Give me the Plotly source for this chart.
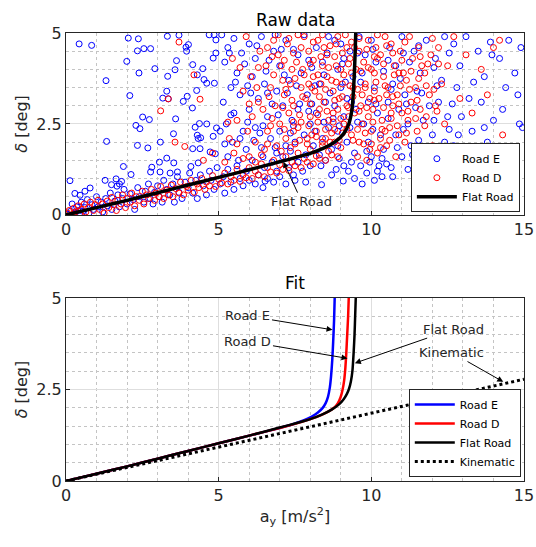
import plotly.graph_objects as go

# ---------------- raw measurements (a_y [m/s^2], delta [deg]) ----------------
road_e_x = [
    0.05, 0.15, 0.2, 0.3, 0.35, 0.4, 0.5, 0.55, 0.62, 0.7, 0.75, 0.85, 0.9, 1.0, 1.05, 1.15, 1.2, 1.3, 1.35, 1.45,
    1.5, 1.6, 1.7, 1.75, 1.85, 1.9, 2.0, 2.1, 2.2, 2.25, 2.35, 2.4, 2.55, 2.6, 2.7, 2.75, 2.85, 2.9, 3.0, 3.05,
    3.15, 3.2, 3.3, 3.4, 3.5, 3.55, 3.65, 3.7, 3.8, 3.9, 4.0, 4.05, 4.15, 4.25, 4.3, 4.4, 4.5, 4.6, 4.7, 4.75,
    4.85, 4.95, 5.05, 5.15, 5.2, 5.3, 5.4, 5.5, 5.6, 5.7, 5.8, 5.9, 6.0, 6.1, 6.2, 6.3, 6.45, 6.5, 6.6, 6.75,
    6.8, 6.9, 7.0, 7.1, 7.2, 7.3, 7.45, 7.5, 7.6, 7.75, 7.85, 8.0, 6.52, 8.37, 9.08,
    0.43, 0.84, 2.04, 2.37, 2.34, 2.55, 2.77, 3.32, 3.70, 3.93, 4.01, 3.95, 1.99, 1.31, 2.39, 2.91, 3.62, 3.57,
    3.33, 2.09, 3.30, 3.17, 3.35, 3.97, 3.84, 4.14, 4.15, 4.48, 4.52, 4.30, 4.28, 4.61, 4.86, 4.91, 4.82, 4.69,
    4.85, 4.91, 2.51, 2.73, 3.59, 2.29, 2.42, 1.33, 3.09, 2.34, 2.68, 4.23, 4.37, 4.61, 4.30, 4.33, 4.41, 4.82,
    4.93, 3.52, 4.15, 4.39, 4.72, 4.89, 3.30, 3.53, 3.06, 1.88, 2.13, 2.81, 2.77, 3.08, 3.41, 3.65, 4.09, 4.33,
    0.13, 1.28, 1.64, 1.82, 1.75, 1.67, 1.49, 0.29, 0.46, 0.62, 0.79,
    5.1, 5.3, 5.5, 5.2, 5.6, 5.4, 5.15, 5.7, 5.5, 5.25, 5.8, 5.45, 5.9, 5.3, 6.0, 6.2, 6.4, 6.1, 6.5, 6.3,
    6.0, 6.6, 6.2, 6.7, 6.4, 6.9, 6.8, 7.0, 7.2, 6.9, 7.3, 7.1, 7.4, 7.0, 7.5, 7.2, 7.6, 7.8, 7.7, 7.9,
    7.6, 8.0, 7.8, 8.1, 8.2, 8.4, 8.3, 8.5, 8.2, 8.6, 8.4, 8.7, 8.8, 8.9, 9.0, 8.8, 9.1, 8.9, 9.2, 9.3,
    9.4, 9.2, 9.5, 9.3, 9.45, 8.95, 8.5, 9.1, 8.3, 5.75, 6.85, 7.45, 8.6, 9.1, 9.0, 6.55, 7.25, 8.05, 8.75, 9.35,
    6.15, 5.05, 5.65, 6.45, 7.35, 8.15, 8.9, 7.95, 6.75, 5.95, 8.45,
    9.6, 9.8, 10.0, 9.7, 10.1, 9.9, 10.2, 9.75, 10.3, 9.9, 10.4, 10.0, 10.5, 10.2, 10.6, 10.8, 11.0, 10.7, 11.1, 10.9,
    11.2, 10.8, 11.3, 11.0, 11.5, 11.4, 11.6, 11.8, 11.5, 11.9, 11.7, 12.0, 11.8, 12.2, 12.1, 12.3, 12.4, 12.2, 12.5, 12.4,
    10.4, 10.55, 11.25, 11.45, 12.05, 10.15, 10.95, 10.65, 9.65, 9.85, 10.1, 9.45, 9.25, 10.35,
    12.7, 12.9, 13.1, 12.8, 13.2, 12.95, 13.3, 12.7, 13.0, 13.5, 13.7, 13.9, 13.6, 14.0, 13.8, 14.2, 14.4, 14.5, 14.3, 14.7,
    14.9, 14.85, 14.6, 14.95, 13.4, 14.1, 12.6, 13.5, 14.8, 13.95,
    5.35, 5.85, 6.25, 6.65, 7.05, 7.55, 8.05, 8.55, 9.05, 9.55, 10.05, 10.55, 11.05, 11.55, 12.05, 12.55, 5.55, 6.05, 6.6, 7.15,
    7.65, 8.15, 8.65, 9.15, 9.65, 10.15, 10.65, 11.15, 11.65, 12.15, 12.65, 5.4, 5.95, 6.45, 6.95, 7.45, 7.95, 8.45, 8.95, 9.55,
    10.05, 10.55, 11.05, 11.55, 12.05, 12.55, 5.2, 5.7, 6.35, 6.85, 7.35, 7.85, 8.35, 8.85, 9.35, 9.85, 10.35, 10.85, 11.35, 9.7,
    10.25, 8.7, 9.95, 10.7, 11.2, 13.2, 13.7, 14.45, 12.85, 13.35,
]
road_e_y = [
    0.02, 0.1, 0.3, 0.05, 0.22, 0.12, 0.35, 0.1, 0.2, 0.42, 0.05, 0.28, 0.15, 0.5, 0.22, 0.35, 0.08, 0.45, 0.25, 0.6,
    0.15, 0.38, 0.55, 0.22, 0.45, 0.7, 0.3, 0.58, 0.42, 0.15, 0.75, 0.5, 0.35, 0.65, 0.85, 0.45, 0.3, 0.62, 0.8, 0.5,
    0.35, 0.95, 0.7, 0.55, 0.85, 0.35, 1.05, 0.62, 0.45, 0.9, 0.75, 1.15, 0.6, 0.95, 0.45, 1.1, 0.8, 0.55, 1.2, 0.95,
    0.7, 1.3, 0.85, 1.05, 0.6, 1.25, 0.9, 0.7, 1.35, 1.0, 0.8, 1.2, 0.95, 1.5, 0.85, 1.1, 0.75, 1.3, 1.0, 1.45,
    0.9, 1.2, 1.05, 1.6, 0.85, 1.3, 1.1, 0.95, 1.45, 1.2, 0.9, 1.35, 0.93, 0.83, 0.93,
    4.70, 4.66, 4.86, 4.84, 4.51, 4.57, 4.57, 4.91, 4.94, 4.61, 4.68, 4.50, 4.22, 3.69, 3.90, 4.02, 4.24, 3.99,
    3.81, 3.28, 3.40, 3.21, 3.19, 3.26, 3.12, 2.94, 4.13, 4.02, 3.72, 3.85, 3.42, 3.62, 3.62, 4.45, 4.31, 4.95,
    4.95, 4.81, 2.69, 2.62, 2.64, 2.46, 2.37, 2.02, 2.00, 1.91, 1.84, 2.41, 2.51, 2.50, 2.19, 2.10, 2.12, 2.16,
    2.39, 2.23, 1.82, 1.82, 1.73, 1.68, 1.56, 1.43, 1.45, 1.33, 1.11, 1.31, 1.18, 1.18, 1.15, 1.18, 1.33, 1.43,
    0.94, 0.95, 0.99, 0.92, 0.85, 0.79, 0.83, 0.59, 0.54, 0.65, 0.74,
    4.95, 4.6, 4.85, 4.2, 3.9, 3.5, 3.1, 3.3, 2.8, 2.5, 2.3, 2.0, 1.8, 1.6, 4.7, 4.3, 4.9, 3.8, 3.6, 3.2,
    2.9, 2.7, 2.4, 2.1, 1.85, 1.7, 4.5, 4.1, 4.8, 3.4, 3.7, 3.0, 2.6, 2.3, 2.0, 1.9, 4.4, 4.95, 3.9, 3.3,
    2.9, 2.5, 2.2, 1.9, 4.6, 4.2, 3.6, 3.1, 2.8, 2.4, 2.1, 1.8, 4.8, 4.0, 3.5, 3.0, 2.7, 2.3, 2.0, 4.5,
    3.8, 3.2, 2.9, 2.4, 1.7, 1.55, 1.5, 1.35, 1.65, 4.45, 4.95, 4.55, 4.9, 4.3, 4.7, 3.95, 3.35, 3.05, 2.65, 3.1,
    2.05, 2.3, 1.5, 1.6, 2.25, 2.3, 1.9, 4.25, 3.05, 3.55, 3.85,
    4.9, 4.4, 4.8, 3.9, 3.5, 3.1, 2.8, 2.5, 2.2, 2.0, 1.8, 1.6, 1.4, 1.2, 4.6, 4.1, 4.9, 3.6, 3.3, 2.9,
    2.5, 2.2, 1.9, 1.6, 1.4, 4.5, 3.9, 4.8, 3.4, 3.0, 2.6, 2.2, 1.8, 1.5, 4.3, 3.7, 4.9, 3.1, 2.7, 2.0,
    3.95, 3.1, 4.2, 2.95, 2.6, 4.2, 3.75, 1.3, 1.35, 1.15, 0.95, 1.0, 1.2, 1.05,
    4.7, 4.1, 4.9, 3.5, 3.2, 2.7, 2.3, 1.9, 1.5, 4.5, 3.8, 4.75, 3.1, 2.6, 2.0, 4.3, 3.5, 4.8, 2.9, 3.9,
    4.6, 2.5, 1.8, 2.4, 1.0, 1.3, 0.85, 1.7, 3.3, 4.4,
    4.45, 4.15, 4.65, 4.25, 4.55, 3.55, 4.05, 4.45, 4.15, 4.45, 4.55, 4.25, 4.45, 4.65, 4.05, 4.45, 3.65, 3.35, 3.35, 3.85,
    3.05, 3.55, 3.35, 3.65, 3.65, 3.05, 3.45, 3.05, 3.35, 3.55, 3.05, 2.75, 2.55, 2.45, 2.75, 2.45, 2.85, 2.55, 2.45, 2.55,
    2.35, 2.65, 2.35, 2.05, 1.75, 2.35, 1.95, 2.1, 2.25, 1.85, 1.75, 1.65, 1.35, 1.25, 1.45, 1.75, 1.55, 1.85, 1.65, 0.85,
    1.35, 1.1, 1.45, 1.05, 1.25, 1.1, 2.4, 1.5, 2.2, 3.65,
]

road_d_x = [
    0.05, 0.1, 0.2, 0.25, 0.3, 0.4, 0.45, 0.5, 0.6, 0.65, 0.75, 0.8, 0.9, 0.95, 1.05, 1.1, 1.2, 1.25, 1.35, 1.4,
    1.5, 1.55, 1.65, 1.7, 1.8, 1.85, 1.95, 2.0, 2.1, 2.15, 2.25, 2.3, 2.4, 2.5, 2.55, 2.65, 2.7, 2.8, 2.9, 2.95,
    3.05, 3.1, 3.2, 3.3, 3.35, 3.45, 3.5, 3.6, 3.7, 3.75, 3.85, 3.95, 4.0, 4.1, 4.2, 4.3, 4.35, 4.45, 4.55, 4.6,
    4.7, 4.8, 4.9, 5.0, 5.1, 5.2, 5.3, 5.4, 5.5, 5.6, 5.7, 5.8, 5.9, 6.0, 6.1, 6.2, 6.3, 6.4, 6.5, 6.6,
    6.7, 6.8, 6.9, 7.0, 7.1, 7.2, 7.3, 7.4, 7.5, 7.6, 7.7, 7.8, 7.9, 8.0, 8.1, 8.2, 8.3, 8.4, 8.5, 8.6,
    8.7, 8.8, 8.9, 9.0,
    3.70, 3.10, 3.35, 3.57, 3.89, 4.19, 4.39, 4.5, 4.8,
    5.2, 5.5, 5.35, 5.6, 5.8, 5.45, 5.9, 6.0, 6.2, 6.1, 6.3, 6.05, 6.35, 6.5, 6.6, 6.45, 6.7, 6.55, 6.8, 6.9,
    7.0, 6.85, 7.1, 6.95, 7.2, 7.3, 7.15, 7.4, 7.25, 7.5, 7.6, 7.45, 7.7, 7.55, 7.8, 7.9, 8.0, 7.85, 8.1, 7.95,
    8.2, 8.3, 8.15, 8.4, 8.25, 8.5, 8.6, 8.45, 8.7, 8.55, 8.8, 8.9, 8.75, 9.0, 8.85, 9.1, 9.2, 9.05, 9.3, 9.15,
    9.35, 9.45, 9.4, 9.5, 9.45, 7.65, 8.05, 8.35, 8.65, 8.95, 9.25, 7.35, 7.05, 8.45, 8.85, 9.35, 7.75, 6.75, 6.25, 5.95,
    8.25, 8.55, 9.05, 7.45, 8.75, 9.2, 7.95, 6.6, 8.1, 9.4, 8.4,
    9.6, 9.7, 9.65, 9.8, 9.75, 9.9, 9.95, 10.0, 10.05, 10.1, 10.0, 10.15, 10.3, 10.35, 10.25, 10.4, 10.3, 10.45, 10.6, 10.7,
    10.55, 10.75, 10.65, 10.9, 11.0, 10.85, 11.05, 10.95, 11.2, 11.3, 11.15, 11.35, 11.25, 11.5, 11.6, 11.45, 11.65, 11.55, 11.8, 11.9,
    11.75, 11.95, 12.0, 12.1, 9.55, 9.85, 10.2, 10.5, 10.8, 11.1, 9.7, 9.9, 10.1, 10.5, 10.9, 10.45, 10.65, 9.6, 10.2, 9.95,
    12.3, 12.5, 12.7, 12.4, 12.9, 13.1, 13.3, 13.6, 14.0, 14.2, 13.8, 12.6, 14.3, 12.2,
    6.6, 6.7, 6.65, 6.8, 6.75, 6.95, 7.05, 7.15, 7.1, 7.2, 7.15, 7.3, 7.35, 7.45, 7.4, 7.5, 7.45, 7.6, 7.65, 7.7,
    7.75, 7.8, 7.7, 7.9, 7.95, 8.0, 8.05, 8.0, 8.1, 8.2, 8.25, 8.3, 8.25, 8.35, 8.4, 8.5, 8.55, 8.5, 8.6, 8.65,
    8.7, 8.75, 8.8, 8.85, 8.8, 8.9, 8.95, 9.0, 9.05, 9.1, 9.05, 9.2, 9.25, 9.3, 9.25, 9.35, 9.4, 9.55, 9.6, 9.55,
    9.65, 9.6, 9.75, 9.8, 9.85, 9.8, 9.9, 9.85, 10.0, 10.05, 10.1, 10.15, 10.1, 10.2, 10.3, 10.35, 10.4, 10.45, 10.4, 10.5,
    10.6, 10.65, 10.7, 10.75, 10.7, 10.85, 10.9, 10.95, 11.0, 11.1, 11.15, 11.2, 11.25, 11.3, 11.45, 11.5, 11.55, 11.6, 11.75, 11.8,
    11.85, 12.0, 12.05, 12.15, 12.2, 6.2, 6.4, 5.8, 5.6, 5.3, 6.0, 5.7, 6.3,
]
road_d_y = [
    0.05, 0.12, 0.0, 0.18, 0.08, 0.25, 0.02, 0.15, 0.3, 0.08, 0.2, 0.35, 0.12, 0.28, 0.4, 0.15, 0.3, 0.05, 0.38, 0.2,
    0.48, 0.28, 0.12, 0.4, 0.3, 0.55, 0.2, 0.45, 0.35, 0.6, 0.25, 0.5, 0.4, 0.65, 0.3, 0.55, 0.45, 0.7, 0.4, 0.6,
    0.5, 0.78, 0.45, 0.68, 0.55, 0.82, 0.5, 0.72, 0.6, 0.9, 0.55, 0.78, 0.68, 0.95, 0.62, 0.85, 0.75, 1.0, 0.7, 0.9,
    0.8, 1.08, 0.78, 0.98, 0.88, 1.15, 0.85, 1.05, 0.95, 1.25, 0.92, 1.1, 1.02, 1.3, 1.0, 1.2, 1.1, 1.4, 1.05, 1.3,
    1.18, 1.5, 1.15, 1.38, 1.25, 1.6, 1.22, 1.45, 1.35, 1.7, 1.3, 1.55, 1.45, 1.8, 1.4, 1.62, 1.55, 1.9, 1.5, 1.75,
    1.65, 2.0, 1.6, 1.85,
    4.75, 2.86, 3.19, 2.00, 1.88, 3.85, 3.18, 1.5, 1.7,
    1.45, 1.7, 2.1, 2.6, 3.4, 4.3, 4.9, 1.6, 2.0, 2.7, 3.1, 3.8, 4.5, 1.8, 2.3, 2.9, 3.5, 4.1, 4.8, 1.9,
    2.5, 3.0, 3.7, 4.4, 2.1, 2.8, 3.3, 4.0, 4.7, 1.95, 2.4, 3.0, 3.5, 4.2, 4.9, 2.1, 2.7, 3.2, 3.8, 4.5,
    2.3, 2.9, 3.4, 4.1, 4.8, 2.1, 2.6, 3.1, 3.7, 4.4, 2.35, 2.9, 3.4, 4.0, 4.7, 2.5, 3.0, 3.6, 4.3, 4.95,
    2.2, 2.8, 3.5, 4.0, 4.6, 2.75, 2.2, 3.6, 2.0, 3.2, 2.7, 3.6, 4.1, 4.6, 4.1, 3.9, 4.0, 2.65, 3.5, 2.3,
    2.55, 3.8, 2.25, 2.3, 2.8, 4.6, 3.6, 4.6, 4.25, 3.25, 2.0,
    2.0, 2.5, 3.0, 3.6, 4.2, 4.8, 1.8, 2.3, 2.9, 3.4, 4.0, 4.6, 2.1, 2.6, 3.2, 3.8, 4.4, 4.9, 2.4, 3.0,
    3.5, 4.1, 4.7, 2.2, 2.8, 3.3, 3.9, 4.5, 2.6, 3.1, 3.7, 4.3, 4.9, 2.3, 2.9, 3.5, 4.1, 4.6, 2.7, 3.3,
    3.9, 4.4, 1.9, 3.0, 1.6, 1.5, 1.7, 1.9, 1.6, 2.0, 3.3, 2.7, 3.9, 3.3, 3.9, 2.3, 2.8, 4.5, 4.3, 3.2,
    3.6, 4.1, 4.9, 2.5, 3.2, 4.4, 2.8, 4.0, 4.6, 4.8, 3.3, 1.6, 2.2, 4.6,
    1.95, 2.45, 3.25, 3.85, 4.35, 4.95, 1.75, 2.35, 2.95, 3.45, 4.25, 4.85, 1.85, 2.55, 3.15, 3.75, 4.45, 4.95, 2.05, 2.55,
    3.25, 3.85, 4.6, 1.95, 2.45, 3.05, 3.5, 4.15, 4.75, 2.15, 2.75, 3.25, 3.85, 4.35, 4.95, 2.35, 2.85, 3.45, 4.05, 4.65,
    2.25, 2.55, 3.15, 3.65, 4.35, 4.9, 2.05, 2.65, 3.25, 3.85, 4.45, 2.35, 2.95, 3.55, 4.15, 4.75, 2.05, 2.35, 2.85, 3.45,
    3.95, 4.85, 1.95, 2.25, 2.95, 3.5, 4.05, 4.55, 1.95, 2.55, 3.15, 3.65, 4.35, 4.95, 1.85, 2.35, 2.95, 3.55, 4.15, 4.65,
    2.05, 2.65, 3.25, 3.85, 4.45, 2.45, 3.05, 3.55, 4.25, 4.75, 2.25, 2.85, 3.45, 3.95, 2.65, 3.15, 3.75, 4.35, 2.45, 3.55,
    4.15, 4.85, 3.45, 2.85, 4.15, 1.45, 1.65, 1.55, 1.95, 2.55, 3.05, 4.05, 4.05,
]

# ---------------- fitted curves ----------------
flat_x = [0, 1, 2, 3, 4, 5, 6, 7, 7.5, 8, 8.4, 8.7, 8.95, 9.1, 9.2, 9.27, 9.33, 9.38, 9.42, 9.45, 9.47, 9.49]
flat_y = [0, 0.2, 0.4, 0.61, 0.82, 1.03, 1.24, 1.46, 1.57, 1.69, 1.82, 1.95, 2.1, 2.24, 2.38, 2.52, 2.72, 3.0, 3.5, 4.0, 4.5, 5.0]

fit_e_x = [0, 1, 2, 3, 4, 5, 6, 7, 7.5, 7.8, 8.05, 8.25, 8.4, 8.5, 8.58, 8.64, 8.68, 8.72, 8.75, 8.78, 8.8]
fit_e_y = [0, 0.2, 0.4, 0.61, 0.82, 1.03, 1.24, 1.45, 1.57, 1.66, 1.76, 1.87, 1.99, 2.12, 2.3, 2.55, 2.85, 3.3, 3.8, 4.4, 5.0]

fit_d_x = [0, 1, 2, 3, 4, 5, 6, 7, 7.5, 8, 8.35, 8.6, 8.78, 8.9, 8.99, 9.06, 9.11, 9.15, 9.18, 9.21, 9.24, 9.26]
fit_d_y = [0, 0.2, 0.4, 0.61, 0.82, 1.03, 1.24, 1.45, 1.56, 1.69, 1.8, 1.9, 2.0, 2.12, 2.28, 2.5, 2.75, 3.1, 3.5, 4.0, 4.5, 5.0]

kin_x = [0, 15]
kin_y = [0, 2.78]

x_ticks = [0, 5, 10, 15]
y_ticks = [0, 2.5, 5]
y_tick_text = ["0", "2.5", "5"]

# ---------------- styling ----------------
FONT = "DejaVu Sans, Liberation Sans, Arial, sans-serif"
INK = "#262626"
BLUE = "#0000ff"
RED = "#ff0000"

fig = go.Figure()

fig.add_trace(go.Scatter(
    x=road_e_x, y=road_e_y, mode="markers", name="Road E",
    marker=dict(symbol="circle-open", size=6, color=BLUE, line=dict(width=1)),
    xaxis="x", yaxis="y", legend="legend"))
fig.add_trace(go.Scatter(
    x=road_d_x, y=road_d_y, mode="markers", name="Road D",
    marker=dict(symbol="circle-open", size=6, color=RED, line=dict(width=1)),
    xaxis="x", yaxis="y", legend="legend"))
fig.add_trace(go.Scatter(
    x=flat_x, y=flat_y, mode="lines", name="Flat Road",
    line=dict(color="black", width=3.5, shape="spline", smoothing=0.6),
    xaxis="x", yaxis="y", legend="legend"))

fig.add_trace(go.Scatter(
    x=fit_e_x, y=fit_e_y, mode="lines", name="Road E",
    line=dict(color=BLUE, width=2.5, shape="spline", smoothing=0.6),
    xaxis="x2", yaxis="y2", legend="legend2"))
fig.add_trace(go.Scatter(
    x=fit_d_x, y=fit_d_y, mode="lines", name="Road D",
    line=dict(color=RED, width=2.5, shape="spline", smoothing=0.6),
    xaxis="x2", yaxis="y2", legend="legend2"))
fig.add_trace(go.Scatter(
    x=flat_x, y=flat_y, mode="lines", name="Flat Road",
    line=dict(color="black", width=2.5, shape="spline", smoothing=0.6),
    xaxis="x2", yaxis="y2", legend="legend2"))
fig.add_trace(go.Scatter(
    x=kin_x, y=kin_y, mode="lines", name="Kinematic",
    line=dict(color="black", width=3, dash="dot"),
    xaxis="x2", yaxis="y2", legend="legend2"))


def x_axis(anchor):
    return dict(
        range=[0, 15], tickvals=x_ticks, ticks="inside", ticklen=4, tickcolor=INK,
        showline=True, linecolor=INK, linewidth=1, mirror=True, automargin=False,
        showgrid=True, gridcolor="#dedede", gridwidth=1, zeroline=False,
        minor=dict(dtick=1, showgrid=True, gridcolor="#c4c4c4", griddash="dot", gridwidth=1),
        tickfont=dict(family=FONT, size=16, color=INK), anchor=anchor,
    )


def y_axis(domain, anchor):
    return dict(
        range=[0, 5], tickvals=y_ticks, ticktext=y_tick_text, ticks="inside", ticklen=4, tickcolor=INK,
        showline=True, linecolor=INK, linewidth=1, mirror=True, automargin=False,
        showgrid=True, gridcolor="#dedede", gridwidth=1, zeroline=False,
        minor=dict(dtick=0.5, showgrid=True, gridcolor="#c4c4c4", griddash="dot", gridwidth=1),
        tickfont=dict(family=FONT, size=16, color=INK), domain=domain, anchor=anchor,
        title=dict(text="<i>δ</i> [deg]", font=dict(family=FONT, size=16, color=INK), standoff=4),
    )


legend_style = dict(
    bgcolor="white", bordercolor=INK, borderwidth=1, xanchor="right", yanchor="bottom",
    font=dict(family=FONT, size=11, color="black"), itemwidth=40, tracegroupgap=0,
)

fig.update_layout(
    width=536, height=547, margin=dict(l=66, r=12, t=33, b=66),
    paper_bgcolor="white", plot_bgcolor="white",
    font=dict(family=FONT, color=INK),
    xaxis=x_axis("y"),
    yaxis=y_axis([0.594, 1.0], "x"),
    xaxis2=dict(x_axis("y2"), title=dict(text="a<sub>y</sub> [m/s<sup>2</sup>]",
                                         font=dict(family=FONT, size=16, color=INK), standoff=6)),
    yaxis2=y_axis([0.0, 0.4085], "x2"),
    legend=dict(legend_style, x=0.991, y=0.6),
    legend2=dict(legend_style, x=0.993, y=0.009),
    showlegend=True,
)

# panel titles
fig.add_annotation(text="Raw data", x=0.5, y=1.029, xref="paper", yref="paper", yanchor="middle",
                   showarrow=False, font=dict(family=FONT, size=17, color="black"))
fig.add_annotation(text="Fit", x=0.5, y=0.442, xref="paper", yref="paper", yanchor="middle",
                   showarrow=False, font=dict(family=FONT, size=17, color="black"))

# callouts
arrow_font = dict(family=FONT, size=13, color=INK)
callouts = [
    ("Flat Road", "x", "y", 7.12, 1.46, 7.72, 0.365),
    ("Road E", "x2", "y2", 8.73, 4.13, 5.96, 4.51),
    ("Road D", "x2", "y2", 9.22, 3.35, 5.96, 3.81),
    ("Flat Road", "x2", "y2", 9.46, 3.22, 12.68, 4.15),
    ("Kinematic", "x2", "y2", 14.32, 2.71, 12.63, 3.51),
]
for label, xr, yr, hx, hy, tx, ty in callouts:
    fig.add_annotation(text=label, x=hx, y=hy, ax=tx, ay=ty, xref=xr, yref=yr, axref=xr, ayref=yr,
                       showarrow=True, arrowhead=2, arrowsize=1.2, arrowwidth=1, arrowcolor="black",
                       font=arrow_font)

fig.write_html("out.html")
